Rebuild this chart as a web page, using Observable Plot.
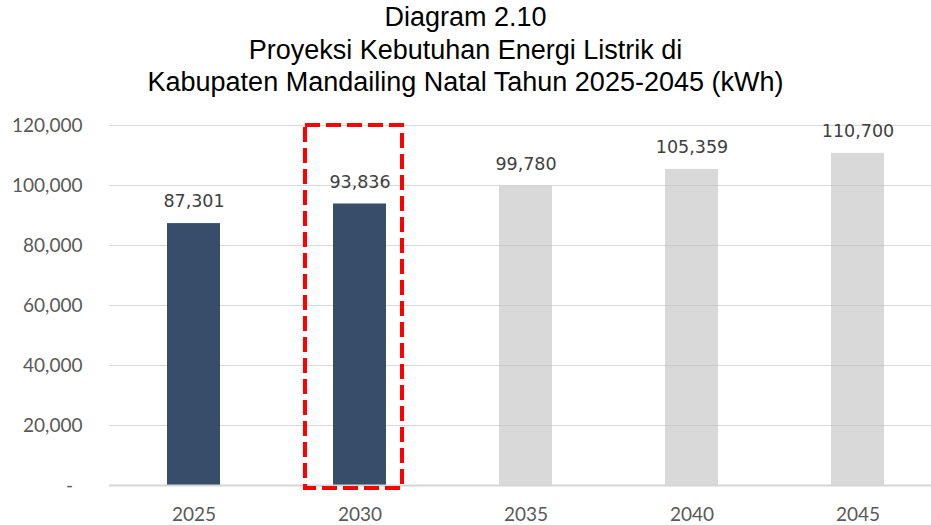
<!DOCTYPE html>
<html>
<head>
<meta charset="utf-8">
<script src="https://cdn.jsdelivr.net/npm/d3@7"></script>
<script src="https://cdn.jsdelivr.net/npm/@observablehq/plot@0.6"></script>
<style>
  html, body { margin: 0; padding: 0; background: #fff; width: 931px; height: 525px; overflow: hidden; }
  #title { height: 100px; text-align: center; font-family: "Liberation Sans", Arial, sans-serif; font-size: 27px; color: #000; line-height: 32.5px; padding-top: 1px; box-sizing: border-box; }
  #chart svg { display: block; }
</style>
</head>
<body>
<div id="title">Diagram 2.10<br>Proyeksi Kebutuhan Energi Listrik di<br>Kabupaten Mandailing Natal Tahun 2025-2045 (kWh)</div>
<div id="chart"></div>
<script>
const years = ["2025", "2030", "2035", "2040", "2045"];
const values = [87301, 93836, 99780, 105359, 110700];
const highlighted = ["2025", "2030"];
const yTicks = [0, 20000, 40000, 60000, 80000, 100000, 120000];
const boxedYear = "2030";

const data = years.map((y, i) => ({year: y, value: values[i], dark: highlighted.includes(y)}));
const fmt = d3.format(",");

const chart = Plot.plot({
  width: 931,
  height: 425,
  marginTop: 25,
  marginBottom: 40,
  marginLeft: 109,
  marginRight: 0,
  style: {background: "transparent", overflow: "visible"},
  x: {domain: years, range: [109, 942], paddingInner: 0.68, paddingOuter: 0.34, label: null, axis: null},
  y: {domain: [0, 120000], label: null, axis: null},
  marks: [
    Plot.ruleY(yTicks.filter(d => d > 0), {stroke: "#d9d9d9", strokeWidth: 1.2}),
    Plot.barY(data.filter(d => !d.dark), {x: "year", y: "value", fill: "#bfbfbf", fillOpacity: 0.6}),
    Plot.barY(data.filter(d => d.dark), {x: "year", y: "value", fill: "#374e6b"}),
    Plot.ruleY([0], {stroke: "#d6d6d6", strokeWidth: 1.8}),
    Plot.axisY({ticks: yTicks, tickSize: 0, tickPadding: 27, fontSize: 19, fontFamily: "Lato", color: "#595959",
      tickFormat: d => d === 0 ? "-\u2002" : fmt(d), label: null}),
    Plot.axisX({tickSize: 0, tickPadding: 22, fontSize: 19, fontFamily: "Lato", color: "#595959", label: null}),
    Plot.text(data, {x: "year", y: "value", text: d => fmt(d.value), dy: -22, fontSize: 17.5,
      fontFamily: "DejaVu Sans", fill: "#404040"}),
    Plot.barY([{year: boxedYear}], {x: "year", y1: 0, y2: 120000, fill: "none", stroke: "#ff0000",
      strokeWidth: 4, strokeDasharray: "15,6", insetLeft: -28, insetRight: -16, insetBottom: -3})
  ]
});
document.getElementById("chart").appendChild(chart);
</script>
</body>
</html>
